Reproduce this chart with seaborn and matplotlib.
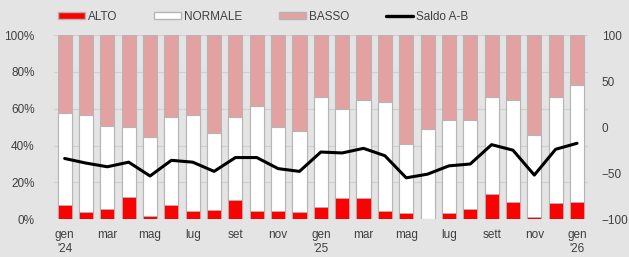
import matplotlib
matplotlib.use("Agg")
import matplotlib.pyplot as plt
import seaborn as sns
import numpy as np
import pandas as pd
from matplotlib.patches import Patch
from matplotlib.lines import Line2D

months = ["gen24", "feb24", "mar24", "apr24", "mag24", "giu24", "lug24", "ago24", "set24", "ott24", "nov24", "dic24",
          "gen25", "feb25", "mar25", "apr25", "mag25", "giu25", "lug25", "ago25", "set25", "ott25", "nov25", "dic25",
          "gen26"]
alto = [7.8, 3.8, 5.8, 11.9, 2.0, 7.8, 4.7, 4.9, 10.5, 4.7, 4.7, 3.8,
        6.5, 11.8, 11.8, 4.7, 3.6, 0.0, 3.6, 5.8, 13.7, 9.6, 1.4, 8.7, 9.6]
normale = [49.7, 52.8, 44.8, 38.0, 42.8, 47.9, 51.9, 41.8, 45.2, 56.8, 45.2, 44.1,
           60.0, 47.9, 52.9, 59.1, 37.1, 48.8, 50.3, 48.1, 52.8, 55.1, 44.2, 57.8, 63.3]
basso = [42.5, 43.4, 49.4, 50.1, 55.2, 44.3, 43.4, 53.3, 44.3, 38.5, 50.1, 52.1,
         33.5, 40.3, 35.3, 36.2, 59.3, 51.2, 46.1, 46.1, 33.5, 35.3, 54.4, 33.5, 27.1]
saldo = [-34, -39, -43, -38, -53, -36, -38, -48, -33, -33, -45, -48,
         -27, -28, -23, -31, -55, -51, -42, -40, -19, -25, -52, -24, -17.5]
xlabels = ["gen\n'24", "", "mar", "", "mag", "", "lug", "", "set", "", "nov", "",
           "gen\n'25", "", "mar", "", "mag", "", "lug", "", "sett", "", "nov", "", "gen\n'26"]

df = pd.DataFrame({"mese": months, "alto": alto, "normale": normale, "basso": basso, "saldo": saldo})
df["top_norm"] = df["alto"] + df["normale"]
df["tot"] = df["top_norm"] + df["basso"]
df["x"] = np.arange(len(df))

sns.set_theme(style="white")
plt.rcParams["font.family"] = ["Liberation Sans", "DejaVu Sans"]
bg = "#e4e4e4"
txt = "#404040"
fs = 8.5

fig = plt.figure(figsize=(6.29, 2.57), dpi=100, facecolor=bg)
ax = fig.add_axes([0.0858, 0.1467, 0.8485, 0.7171], facecolor=bg)

c_basso = "#e3a1a1"
c_alto = "#ff0000"
edge = "#b5b5b5"
w = 0.66
sns.barplot(data=df, x="mese", y="tot", color=c_basso, width=w, edgecolor=edge, linewidth=0.8,
            saturation=1, ax=ax, zorder=2)
sns.barplot(data=df, x="mese", y="top_norm", color="white", width=w, edgecolor=edge, linewidth=0.8,
            saturation=1, ax=ax, zorder=3)
sns.barplot(data=df, x="mese", y="alto", color=c_alto, width=w, edgecolor=edge, linewidth=0.6,
            saturation=1, ax=ax, zorder=4)

ax.set_xlim(-0.5, len(df) - 0.5)
ax.set_ylim(0, 100)
ax.set_yticks([0, 20, 40, 60, 80, 100])
ax.set_yticklabels([f"{v}%" for v in [0, 20, 40, 60, 80, 100]])
ax.yaxis.grid(True, color="#cfcfcf", linewidth=0.8, zorder=0)
ax.set_axisbelow(True)
ax.set_xticks(range(len(df)))
ax.set_xticklabels(xlabels, linespacing=1.2)
ax.set_xlabel("")
ax.set_ylabel("")
ax.tick_params(axis="y", length=0, labelsize=fs, colors=txt, pad=14)
ax.tick_params(axis="x", length=0, labelsize=fs, colors=txt, pad=7)
for s in ax.spines.values():
    s.set_visible(False)

ax2 = ax.twinx()
sns.lineplot(data=df, x="x", y="saldo", color="black", linewidth=2.2, ax=ax2, zorder=5)
ax2.set_ylim(-100, 100)
ax2.set_yticks([-100, -50, 0, 50, 100])
ax2.set_ylabel("")
ax2.tick_params(axis="y", length=0, labelsize=fs, colors=txt, pad=10)
for s in ax2.spines.values():
    s.set_visible(False)
ax2.grid(False)

handles = [Patch(facecolor=c_alto, edgecolor=edge, label="ALTO"),
           Patch(facecolor="white", edgecolor=edge, label="NORMALE"),
           Patch(facecolor=c_basso, edgecolor=edge, label="BASSO"),
           Line2D([0], [0], color="black", linewidth=2.4, label="Saldo A-B")]
leg = fig.legend(handles=handles, loc="center", bbox_to_anchor=(0.418, 0.934), ncol=4, frameon=False,
                 fontsize=fs, handlelength=2.3, handleheight=0.55, handletextpad=0.25, columnspacing=3.1,
                 labelcolor=txt, borderpad=0)

fig.savefig("out.png", dpi=100, facecolor=bg)
